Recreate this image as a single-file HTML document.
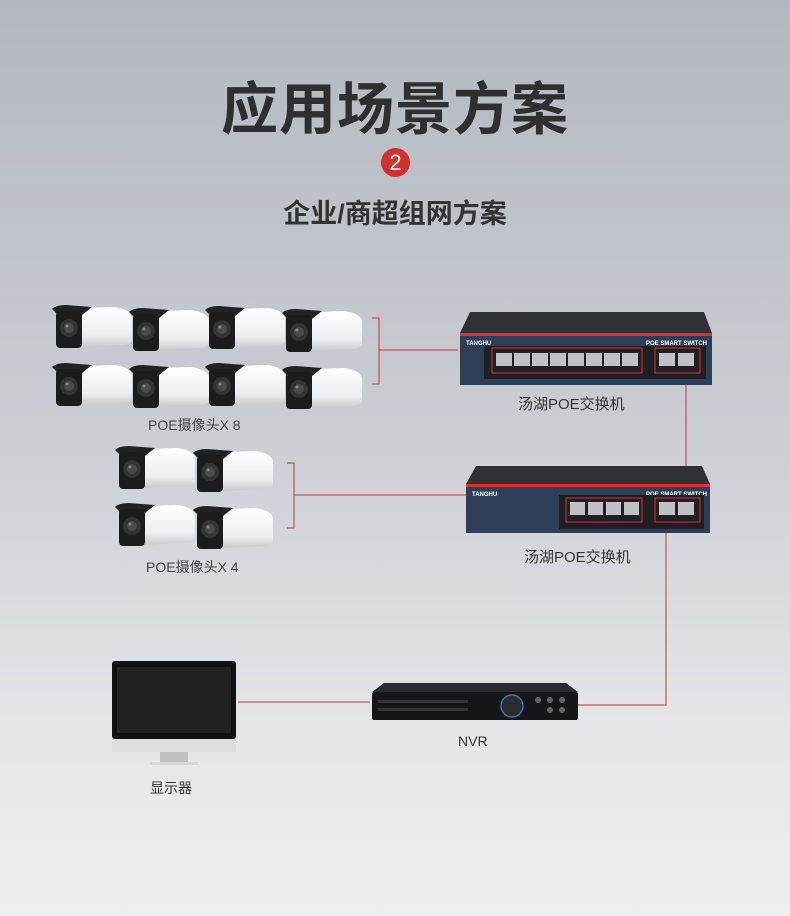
<!DOCTYPE html>
<html><head><meta charset="utf-8"><style>
body{margin:0}
#w{position:relative;width:790px;height:916px;overflow:hidden;background:linear-gradient(180deg,#b3b8bf 0%,#c9cdd2 45%,#e4e6e8 80%,#eceeef 100%);font-family:"Liberation Sans","Noto Sans CJK SC",sans-serif}
.t{position:absolute;white-space:nowrap;color:#333}
</style></head><body><div id="w">
<div class="t" style="left:0;width:790px;text-align:center;top:64px;font-size:57px;font-weight:bold;color:#2f2f2f;letter-spacing:1px">应用场景方案</div>
<div style="position:absolute;left:381px;top:148px;width:29px;height:29px;border-radius:50%;background:#d2302e;color:#fff;font-size:22px;text-align:center;line-height:29px">2</div>
<div class="t" style="left:0;width:790px;text-align:center;top:192px;font-size:27px;font-weight:bold;color:#333">企业/商超组网方案</div>

<svg width="790" height="916" style="position:absolute;left:0;top:0">
<defs>
<linearGradient id="bw" x1="0" y1="0" x2="0" y2="1"><stop offset="0" stop-color="#fff"/><stop offset=".7" stop-color="#eceef0"/><stop offset="1" stop-color="#c8cacd"/></linearGradient>
<g id="cam">
<path d="M6 6 L62 4 Q78 6 80 14 L80 38 Q78 42 70 42 L24 44 L24 12 Z" fill="url(#bw)"/>
<path d="M0 6 Q4 2 14 2 L40 4 L30 12 L6 12 Z" fill="#222"/>
<rect x="4" y="8" width="26" height="37" rx="4" fill="#1c1c1c"/>
<circle cx="17" cy="25" r="9" fill="#333"/><circle cx="17" cy="25" r="5" fill="#4b4b4b"/><circle cx="15" cy="23" r="1.5" fill="#888"/>
</g>
</defs>
<g stroke="#c43530" stroke-width="1" fill="none">
<path d="M372 318H379V384H372M379 350H458"/>
<path d="M287 463H294V528H287M294 495H468"/>
<path d="M686 383V470"/>
<path d="M666 526V705H578"/>
<path d="M238 702H370"/>
</g>
<use href="#cam" x="52" y="303"/><use href="#cam" x="129" y="306"/><use href="#cam" x="205" y="304"/><use href="#cam" x="282" y="307"/>
<use href="#cam" x="52" y="361"/><use href="#cam" x="129" y="363"/><use href="#cam" x="205" y="361"/><use href="#cam" x="282" y="364"/>
<use href="#cam" x="115" y="444"/><use href="#cam" x="193" y="447"/>
<use href="#cam" x="115" y="501"/><use href="#cam" x="193" y="504"/>

<path d="M470 312H704L712 333H460Z" fill="#2f3136"/>
<rect x="460" y="333" width="252" height="52" fill="#2f3e57"/>
<rect x="460" y="333" width="252" height="3" fill="#e0302c"/>
<text x="466" y="345" font-size="6" fill="#fff" font-weight="bold">TANGHU</text>
<text x="646" y="345" font-size="6" fill="#fff" font-weight="bold">POE SMART SWITCH</text>
<rect x="484" y="346" width="222" height="33" fill="#1e1f22"/>
<rect x="492" y="348" width="150" height="25" fill="none" stroke="#e0302c"/>
<rect x="655" y="348" width="45" height="25" fill="none" stroke="#e0302c"/>
<g fill="#bfc2c5"><rect x="496" y="353" width="16" height="13"/><rect x="514" y="353" width="16" height="13"/><rect x="532" y="353" width="16" height="13"/><rect x="550" y="353" width="16" height="13"/><rect x="568" y="353" width="16" height="13"/><rect x="586" y="353" width="16" height="13"/><rect x="604" y="353" width="16" height="13"/><rect x="622" y="353" width="16" height="13"/><rect x="659" y="353" width="16" height="13"/><rect x="678" y="353" width="16" height="13"/></g>
<path d="M476 466H702L710 484H466Z" fill="#2f3136"/>
<rect x="466" y="484" width="244" height="49" fill="#2f3e57"/>
<rect x="466" y="484" width="244" height="3" fill="#e0302c"/>
<text x="472" y="496" font-size="6" fill="#fff" font-weight="bold">TANGHU</text>
<text x="646" y="496" font-size="6" fill="#fff" font-weight="bold">POE SMART SWITCH</text>
<rect x="559" y="495" width="145" height="34" fill="#1e1f22"/>
<rect x="566" y="498" width="76" height="24" fill="none" stroke="#e0302c"/>
<rect x="655" y="498" width="45" height="24" fill="none" stroke="#e0302c"/>
<g fill="#bfc2c5"><rect x="570" y="502" width="15" height="13"/><rect x="588" y="502" width="15" height="13"/><rect x="606" y="502" width="15" height="13"/><rect x="624" y="502" width="15" height="13"/><rect x="659" y="502" width="16" height="13"/><rect x="678" y="502" width="16" height="13"/></g>
<path d="M384 683H566L578 692H372Z" fill="#2b2c30"/>
<rect x="372" y="692" width="206" height="28" rx="2" fill="#151619"/>
<rect x="378" y="700" width="90" height="3" fill="#333"/><rect x="378" y="708" width="90" height="3" fill="#333"/>
<circle cx="512" cy="706" r="11" fill="#2a2c31" stroke="#4a6fa0" stroke-width="1.5"/>
<g fill="#666"><circle cx="538" cy="700" r="3"/><circle cx="550" cy="700" r="3"/><circle cx="562" cy="700" r="3"/><circle cx="550" cy="710" r="3"/><circle cx="562" cy="710" r="3"/></g>
<rect x="112" y="661" width="124" height="78" rx="3" fill="#111"/>
<rect x="117" y="667" width="114" height="66" fill="#222"/>
<rect x="112" y="739" width="124" height="13" fill="#dcdee0"/>
<rect x="160" y="752" width="28" height="10" fill="#bfc1c3"/>
<rect x="150" y="762" width="48" height="3" fill="#d6d8da"/>
</svg>

<div class="t" style="left:148px;top:415px;font-size:14px;color:#444">POE摄像头X 8</div>
<div class="t" style="left:146px;top:557px;font-size:14px;color:#444">POE摄像头X 4</div>
<div class="t" style="left:518px;top:393px;font-size:15px;color:#333">汤湖POE交换机</div>
<div class="t" style="left:524px;top:546px;font-size:15px;color:#333">汤湖POE交换机</div>
<div class="t" style="left:458px;top:733px;font-size:14px;color:#333">NVR</div>
<div class="t" style="left:150px;top:778px;font-size:14px;color:#333">显示器</div>
</div></body></html>
